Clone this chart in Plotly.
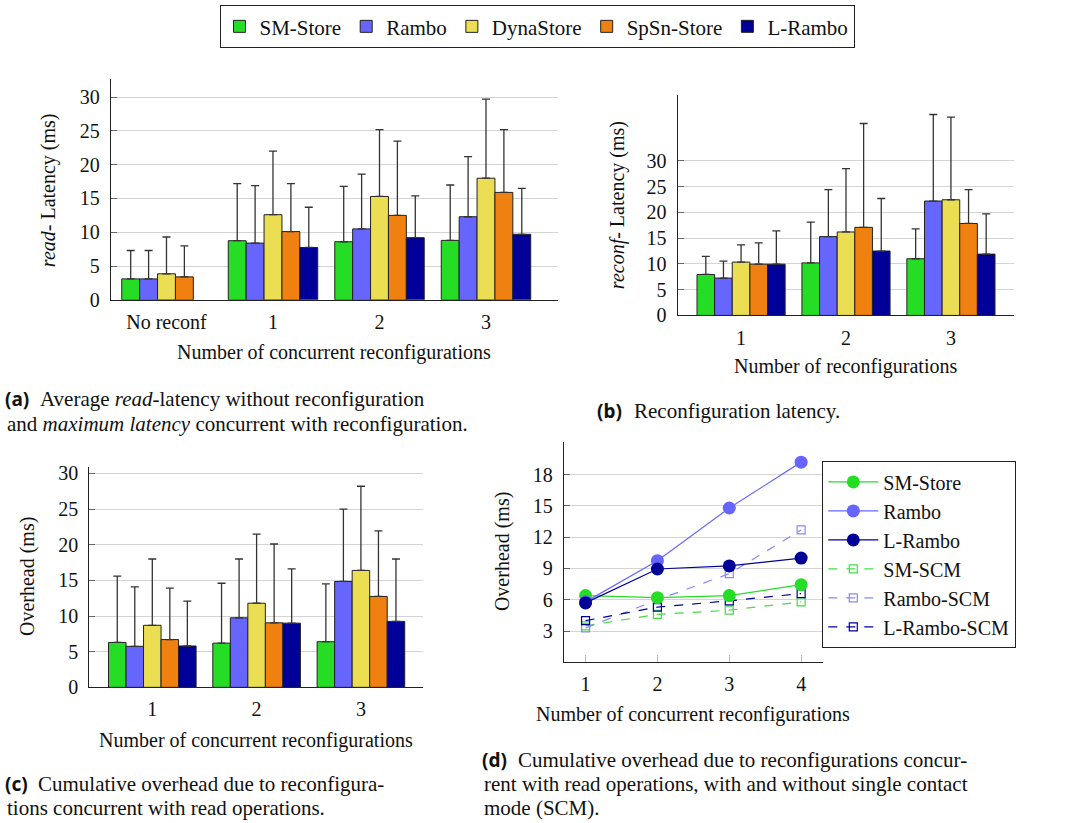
import plotly.graph_objects as go

W, H = 1069, 823
FONT = "Liberation Serif"

series = ["SM-Store", "Rambo", "DynaStore", "SpSn-Store", "L-Rambo"]
colors = ["#26dd26", "#6666ff", "#ecde52", "#f08010", "#000099"]

# (a) read latency: average and maximum
cats_a = ["No reconf", "1", "2", "3"]
read_avg_sm = [3.1, 8.75, 8.6, 8.8]
read_avg_rambo = [3.1, 8.4, 10.5, 12.3]
read_avg_dyna = [3.85, 12.6, 15.3, 18.0]
read_avg_spsn = [3.4, 10.1, 12.5, 15.9]
read_avg_lrambo = [None, 7.75, 9.2, 9.7]
read_max_sm = [7.3, 17.2, 16.8, 17.0]
read_max_rambo = [7.3, 16.9, 18.6, 21.2]
read_max_dyna = [9.3, 22.0, 25.2, 29.7]
read_max_spsn = [8.0, 17.2, 23.5, 25.2]
read_max_lrambo = [None, 13.7, 15.4, 16.5]

# (b) reconfiguration latency
cats_b = ["1", "2", "3"]
reconf_avg_sm = [7.95, 10.2, 11.0]
reconf_avg_rambo = [7.25, 15.3, 22.2]
reconf_avg_dyna = [10.35, 16.2, 22.45]
reconf_avg_spsn = [9.95, 17.1, 17.85]
reconf_avg_lrambo = [9.95, 12.5, 11.9]
reconf_max_sm = [11.45, 18.1, 16.8]
reconf_max_rambo = [10.55, 24.4, 39.0]
reconf_max_dyna = [13.7, 28.5, 38.5]
reconf_max_spsn = [14.1, 37.25, 24.4]
reconf_max_lrambo = [16.4, 22.7, 19.7]

# (c) cumulative overhead
cats_c = ["1", "2", "3"]
ovh_avg_sm = [6.3, 6.2, 6.4]
ovh_avg_rambo = [5.75, 9.75, 14.85]
ovh_avg_dyna = [8.7, 11.8, 16.4]
ovh_avg_spsn = [6.7, 9.05, 12.75]
ovh_avg_lrambo = [5.8, 9.0, 9.25]
ovh_max_sm = [15.6, 14.6, 14.5]
ovh_max_rambo = [14.1, 18.0, 25.0]
ovh_max_dyna = [18.0, 21.5, 28.2]
ovh_max_spsn = [13.9, 20.1, 21.95]
ovh_max_lrambo = [12.1, 16.6, 18.0]

# (d) overhead with / without SCM
x_d = [1, 2, 3, 4]
d_sm = [6.4, 6.2, 6.4, 7.45]
d_rambo = [5.8, 9.75, 14.8, 19.2]
d_lrambo = [5.7, 8.95, 9.25, 10.0]
d_sm_scm = [3.5, 4.6, 5.0, 5.8]
d_rambo_scm = [3.3, 6.0, 8.5, 12.7]
d_lrambo_scm = [4.0, 5.3, 5.9, 6.6]


def px(x):
    return x / W


def py(y):
    # vertical position (pixels from top) -> paper fraction
    y = (y - 3.8) / 0.982
    return 1 - y / H


fig = go.Figure()


def add_bars(cats, avgs, maxes, xa, ya, legend):
    for name, col, avg, mx in zip(series, colors, avgs, maxes):
        err = [None if v is None else u - v for v, u in zip(avg, mx)]
        fig.add_trace(go.Bar(
            x=cats, y=avg, name=name, xaxis=xa, yaxis=ya,
            marker=dict(color=col, line=dict(color="#222222", width=1)),
            error_y=dict(type="data", symmetric=False, array=err,
                         arrayminus=[0] * len(avg), color="#333333",
                         thickness=1.3, width=4),
            showlegend=legend, legendgroup=name,
        ))


add_bars(cats_a,
         [read_avg_sm, read_avg_rambo, read_avg_dyna, read_avg_spsn, read_avg_lrambo],
         [read_max_sm, read_max_rambo, read_max_dyna, read_max_spsn, read_max_lrambo],
         "x", "y", True)
add_bars(cats_b,
         [reconf_avg_sm, reconf_avg_rambo, reconf_avg_dyna, reconf_avg_spsn, reconf_avg_lrambo],
         [reconf_max_sm, reconf_max_rambo, reconf_max_dyna, reconf_max_spsn, reconf_max_lrambo],
         "x2", "y2", False)
add_bars(cats_c,
         [ovh_avg_sm, ovh_avg_rambo, ovh_avg_dyna, ovh_avg_spsn, ovh_avg_lrambo],
         [ovh_max_sm, ovh_max_rambo, ovh_max_dyna, ovh_max_spsn, ovh_max_lrambo],
         "x3", "y3", False)

# (d) lines: dashed SCM first (underneath)
scm = [("SM-SCM", d_sm_scm, "#44dd44", 4),
       ("Rambo-SCM", d_rambo_scm, "#8888ff", 5),
       ("L-Rambo-SCM", d_lrambo_scm, "#000099", 6)]
for name, vals, col, rank in scm:
    fig.add_trace(go.Scatter(
        x=x_d, y=vals, name=name, xaxis="x4", yaxis="y4", mode="lines+markers",
        line=dict(color=col, width=1.2, dash="dash"),
        marker=dict(symbol="square-open", size=8, color=col, line=dict(width=1.2)),
        legend="legend2", legendgroup=name, legendrank=rank,
    ))
solid = [("SM-Store", d_sm, "#26dd26", 1),
         ("Rambo", d_rambo, "#6666ff", 2),
         ("L-Rambo", d_lrambo, "#000099", 3)]
for name, vals, col, rank in solid:
    fig.add_trace(go.Scatter(
        x=x_d, y=vals, name=name, xaxis="x4", yaxis="y4", mode="lines+markers",
        line=dict(color=col, width=1.2),
        marker=dict(symbol="circle", size=13, color=col),
        legend="legend2", legendgroup=name + "_d", legendrank=rank,
    ))

grid = "#d4d4d4"
axis_common = dict(showline=True, linecolor="#222222", linewidth=1.3, zeroline=False,
                   tickfont=dict(family=FONT, size=20, color="#111"))


def xax(dom, anchor, rng, **kw):
    d = dict(domain=[px(dom[0]), px(dom[1])], anchor=anchor, range=rng,
             showgrid=False, ticks="", ticklabelstandoff=4, **axis_common)
    d.update(kw)
    return d


def yax(dom, anchor, rng, tickvals):
    return dict(domain=[py(dom[1]), py(dom[0])], anchor=anchor, range=rng,
                tickvals=tickvals, showgrid=True, gridcolor=grid, gridwidth=1.3,
                ticks="inside", ticklen=6, tickcolor="#666", ticklabelstandoff=6,
                **axis_common)


fig.update_layout(
    width=W, height=H, margin=dict(l=0, r=0, t=0, b=0),
    paper_bgcolor="white", plot_bgcolor="white",
    barmode="group", bargap=0.16, bargroupgap=0,
    font=dict(family=FONT, size=20, color="#111"),
    xaxis=xax((111, 558), "y", [-0.521, 3.676], type="category"),
    yaxis=yax((79, 299.7), "x", [0, 32.66], [0, 5, 10, 15, 20, 25, 30]),
    xaxis2=xax((677.7, 1014.3), "y2", [-0.604, 2.604], type="category"),
    yaxis2=yax((95, 315.3), "x2", [0, 42.75], [0, 5, 10, 15, 20, 25, 30]),
    xaxis3=xax((89.3, 423.3), "y3", [-0.604, 2.598], type="category"),
    yaxis3=yax((466.7, 687.3), "x3", [0, 30.93], [0, 5, 10, 15, 20, 25, 30]),
    xaxis4=xax((564, 822.7), "y4", [0.7, 4.3], tickvals=[1, 2, 3, 4],
               ticks="inside", ticklen=7, tickcolor="#bbbbbb"),
    yaxis4=yax((441.7, 662.3), "x4", [0, 21.15], [3, 6, 9, 12, 15, 18]),
    legend=dict(orientation="h", x=px(537), y=py(5), xanchor="center", yanchor="top",
                bordercolor="#222222", borderwidth=1, font=dict(family=FONT, size=21),
                itemwidth=30, bgcolor="white"),
    legend2=dict(x=px(822), y=py(461), xanchor="left", yanchor="top",
                 bordercolor="#222222", borderwidth=1.3, font=dict(family=FONT, size=20),
                 itemwidth=50, tracegroupgap=0, bgcolor="white"),
)

ann = []


def text(x, y, s, size=20, angle=0, xanchor="center", family=FONT, weight="normal"):
    ann.append(dict(x=px(x), y=py(y), xref="paper", yref="paper", text=s,
                    showarrow=False, textangle=angle, xanchor=xanchor, yanchor="middle",
                    font=dict(family=family, size=size, color="#111", weight=weight)))


# axis titles
text(48, 190, "<i>read</i>- Latency (ms)", angle=-90)
text(617, 205, "<i>reconf</i>- Latency (ms)", angle=-90)
text(27, 577, "Overhead (ms)", angle=-90)
text(502, 552, "Overhead (ms)", angle=-90)
text(334, 352, "Number of concurrent reconfigurations")
text(845, 366, "Number of reconfigurations")
text(256, 740, "Number of concurrent reconfigurations")
text(693, 714, "Number of concurrent reconfigurations")


# sub-figure captions
def label(x, y, s):
    text(x, y, s, size=19, xanchor="left", family="Noto Sans", weight="bold")


label(3, 399, "(a)")
text(38, 399, "Average <i>read</i>-latency without reconfiguration", xanchor="left", size=21)
text(5, 424, "and <i>maximum latency</i> concurrent with reconfiguration.", xanchor="left", size=21)
label(595, 411, "(b)")
text(632, 411, "Reconfiguration latency.", xanchor="left", size=21)
label(3, 784, "(c)")
text(36, 784, "Cumulative overhead due to reconfigura-", xanchor="left", size=21)
text(5, 808, "tions concurrent with read operations.", xanchor="left", size=21)
label(480, 760, "(d)")
text(516, 760, "Cumulative overhead due to reconfigurations concur-", xanchor="left", size=21)
text(482, 784, "rent with read operations, with and without single contact", xanchor="left", size=21)
text(482, 808, "mode (SCM).", xanchor="left", size=21)

fig.update_layout(annotations=ann)
fig.write_html("out.html", config={"displayModeBar": False},
               post_script="document.body.style.margin='0px';")
